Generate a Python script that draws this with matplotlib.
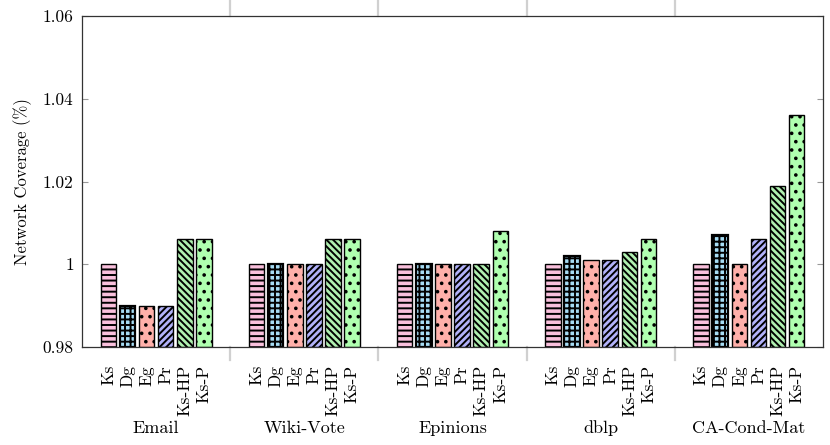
import matplotlib
matplotlib.use("Agg")
import matplotlib.pyplot as plt
import numpy as np

# network coverage per dataset and method
datasets = ["Email", "Wiki-Vote", "Epinions", "dblp", "CA-Cond-Mat"]
methods = ["Ks", "Dg", "Eg", "Pr", "Ks-HP", "Ks-P"]
ks = [1.000, 1.000, 1.000, 1.000, 1.000]
dg = [0.990, 1.000, 1.000, 1.002, 1.007]
eg = [0.990, 1.000, 1.000, 1.001, 1.000]
pr = [0.990, 1.000, 1.000, 1.001, 1.006]
ks_hp = [1.006, 1.006, 1.000, 1.003, 1.019]
ks_p = [1.006, 1.006, 1.008, 1.006, 1.036]
series = [ks, dg, eg, pr, ks_hp, ks_p]

colors = ["#f9c0dc", "#a6dcf4", "#ffb0aa", "#b2b2fa", "#b0f0b0", "#b0ffb0"]
hatches = ["---", "+++", "..", "/////", "\\\\\\\\\\", ".."]
ytick_vals = [0.98, 1.0, 1.02, 1.04, 1.06]
ytick_labels = ["0.98", "1", "1.02", "1.04", "1.06"]

plt.rcParams["font.family"] = ["cmr10", "DejaVu Serif"]
plt.rcParams["axes.formatter.use_mathtext"] = True
plt.rcParams["hatch.linewidth"] = 1.4

fig = plt.figure(figsize=(8.3, 4.45), dpi=100)
ax = fig.add_axes([82/830, 98/445, 741/830, 331/445])

x = np.arange(len(datasets))
pitch = 0.129
width = 0.105
tick_pos = []
tick_lab = []
for i, (vals, c, h) in enumerate(zip(series, colors, hatches)):
    off = (i - 2.5) * pitch
    lw = 1.6 if methods[i] == "Dg" else 1.0
    ax.bar(x + off, np.array(vals) - 0.98, width, bottom=0.98, color=c,
           hatch=h, edgecolor="black", linewidth=lw, zorder=2)
for g in x:
    for i, m in enumerate(methods):
        tick_pos.append(g + (i - 2.5) * pitch)
        tick_lab.append(m)

ax.set_xlim(-0.5, 4.5)
ax.set_ylim(0.98, 1.06)
ax.set_xticks(tick_pos)
ax.set_xticklabels(tick_lab, rotation=90, fontsize=12.5)
ax.tick_params(axis="x", length=0, pad=13)
ax.set_yticks(ytick_vals)
ax.set_yticklabels(ytick_labels, fontsize=12.5)
ax.tick_params(axis="y", direction="in", length=4, color="#999999",
               left=True, right=True, pad=6)
for s in ax.spines.values():
    s.set_color("#333333")
    s.set_linewidth(0.9)
ax.set_ylabel("Network Coverage (%)", fontsize=12, labelpad=8)

# group names under the method labels
trans = ax.get_xaxis_transform()
for g, name in zip(x, datasets):
    ax.text(g, -0.245, name, transform=trans, ha="center", va="center",
            fontsize=13)

# group separators outside the plot area
for b in np.arange(0.5, 4.5, 1.0):
    ax.plot([b, b], [1.0, 1.05], transform=trans, color="#d0d0d0",
            linewidth=1.6, clip_on=False)
    ax.plot([b, b], [-0.04, 0.0], transform=trans, color="#d0d0d0",
            linewidth=1.6, clip_on=False)

fig.savefig("out.png", dpi=100)
